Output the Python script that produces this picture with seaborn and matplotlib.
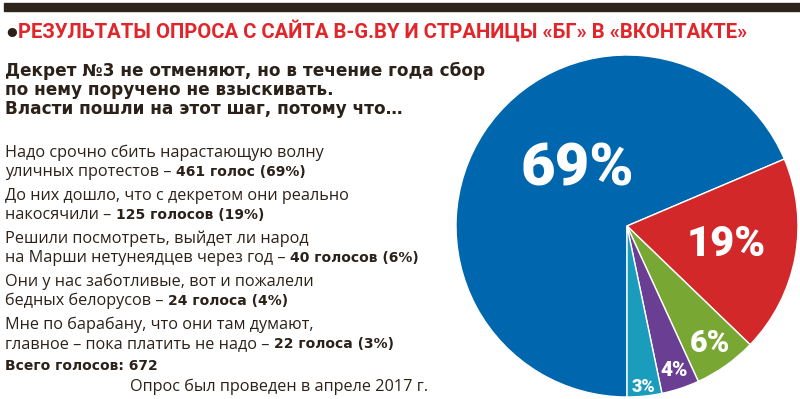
import matplotlib
matplotlib.use("Agg")
import matplotlib.pyplot as plt
import seaborn as sns
import numpy as np
from matplotlib.patches import Rectangle

# --- data ---------------------------------------------------------------
title = "РЕЗУЛЬТАТЫ ОПРОСА С САЙТА B-G.BY И СТРАНИЦЫ «БГ» В «ВКОНТАКТЕ»"
question = ["Декрет №3 не отменяют, но в течение года сбор",
            "по нему поручено не взыскивать.",
            "Власти пошли на этот шаг, потому что…"]
answers_first = ["Надо срочно сбить нарастающую волну",
                 "До них дошло, что с декретом они реально",
                 "Решили посмотреть, выйдет ли народ",
                 "Они у нас заботливые, вот и пожалели",
                 "Мне по барабану, что они там думают,"]
answers_second = ["уличных протестов –",
                  "накосячили –",
                  "на Марши нетунеядцев через год –",
                  "бедных белорусов –",
                  "главное – пока платить не надо –"]
votes = [461, 125, 40, 24, 22]
vote_words = ["голос", "голосов", "голосов", "голоса", "голоса"]
shares = [69, 19, 6, 4, 3]
total_votes = 672
footnote = "Опрос был проведен в апреле 2017 г."

colors = sns.color_palette(["#0067ae", "#d3282a", "#78a833", "#6a3f93", "#1a9dbc"])
DARK = "#2b2119"
RED = "#e1262b"
HEAVY = ["DejaVu Sans"]
CONDENSED = ["Roboto", "DejaVu Sans"]

W, H = 800, 399

sns.set_theme(style="white")
plt.rcParams["font.family"] = ["Open Sans", "DejaVu Sans"]


def fx(x):
    return x / W


def fy(y):
    return 1 - y / H


fig = plt.figure(figsize=(W / 100, H / 100), dpi=100)
fig.patch.set_facecolor("white")

# dark strip on top
fig.patches.append(Rectangle((fx(4), fy(11)), 1, 8 / H, transform=fig.transFigure,
                             color="#2d241b", zorder=0))

# title
fig.text(fx(3), fy(43), "•", color=DARK, fontsize=19, fontweight="bold",
         family=HEAVY, va="baseline")
fig.text(fx(18), fy(38), title, color=RED, fontsize=14.6, fontweight="bold",
         family=CONDENSED, va="baseline")

# question
for i, line in enumerate(question):
    fig.text(fx(5), fy(76 + 19 * i), line, color=DARK, fontsize=12.2,
             fontweight="bold", family=HEAVY, va="baseline")

# answers
renderer = fig.canvas.get_renderer()
y0 = 157
for i in range(len(votes)):
    fig.text(fx(5), fy(y0), answers_first[i], color=DARK, fontsize=11.7,
             va="baseline")
    t = fig.text(fx(5), fy(y0 + 19), answers_second[i], color=DARK,
                 fontsize=11.7, va="baseline")
    x1 = t.get_window_extent(renderer).x1
    fig.text((x1 + 5) / W, fy(y0 + 19),
             f"{votes[i]} {vote_words[i]} ({shares[i]}%)", color=DARK,
             fontsize=10, fontweight="bold", family=HEAVY, va="baseline")
    y0 += 43

fig.text(fx(5), fy(370), f"Всего голосов: {total_votes}", color=DARK,
         fontsize=10, fontweight="bold", family=HEAVY, va="baseline")
fig.text(fx(428), fy(391), footnote, color=DARK, fontsize=11.7, ha="right",
         va="baseline")

# pie
ax = fig.add_axes([fx(456), 2 / H, 342 / W, 342 / H])
wedges, _ = ax.pie(votes, colors=colors, startangle=270, counterclock=False,
                   radius=1, wedgeprops=dict(edgecolor="white", linewidth=1))
ax.set_xlim(-1, 1)
ax.set_ylim(-1, 1)
ax.axis("off")

label_r = [0.44, 0.59, 0.84, 0.89, 0.945]
label_shift = [-15, 0, 0, 0, 0]
label_size = [43, 30, 22, 15, 13]
for w, s, r, sh, fs in zip(wedges, shares, label_r, label_shift, label_size):
    ang = np.deg2rad((w.theta1 + w.theta2) / 2 + sh)
    ax.text(r * np.cos(ang), r * np.sin(ang), f"{s}%", color="white",
            fontsize=fs, fontweight="black", family=CONDENSED,
            ha="center", va="center")

fig.savefig("out.png", dpi=100)
